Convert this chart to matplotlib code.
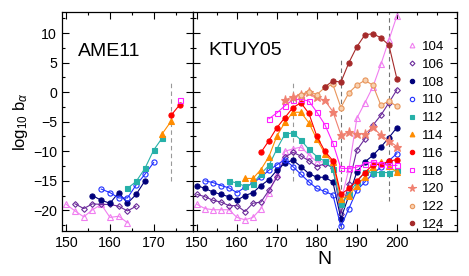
import numpy as np
import matplotlib
matplotlib.use("Agg")
import matplotlib.pyplot as plt
from matplotlib.ticker import MultipleLocator

plt.rcParams['font.family'] = ['Liberation Sans', 'DejaVu Sans']
plt.rcParams['mathtext.fontset'] = 'custom'
plt.rcParams['mathtext.rm'] = 'Liberation Sans'
plt.rcParams['mathtext.it'] = 'Liberation Sans:italic'

#--- AME11 panel (N, log10 b_alpha) per Z
ame_104_n = [150, 152, 154, 156, 158, 160, 162, 164]
ame_104_b = [-19.0, -20.1, -21.1, -19.9, -19.0, -21.2, -21.0, -22.1]
ame_106_n = [152, 154, 156, 158, 160, 162, 164, 166]
ame_106_b = [-18.9, -19.7, -18.9, -19.0, -19.0, -19.3, -20.1, -19.3]
ame_108_n = [156, 158, 160, 162, 164, 166, 168]
ame_108_b = [-17.5, -18.3, -18.8, -17.0, -18.8, -17.3, -15.0]
ame_110_n = [158, 160, 162, 164, 166, 168, 170]
ame_110_b = [-16.4, -17.0, -17.9, -17.9, -15.7, -13.9, -11.9]
ame_112_n = [164, 166, 168, 170, 172]
ame_112_b = [-16.3, -15.1, -12.9, -9.8, -7.7]
ame_114_n = [172, 174]
ame_114_b = [-7.0, -4.9]
ame_116_n = [174, 176]
ame_116_b = [-3.9, -2.1]
ame_118_n = [176]
ame_118_b = [-1.3]

#--- KTUY05 panel
kt_104_n = list(range(150, 201, 2))
kt_104_b = [-19.0, -19.7, -19.9, -19.9, -19.9, -21.2, -21.6, -21.2, -19.7, -17.1,
            -13.8, -10.0, -9.6, -9.3, -10.6, -11.8, -11.8, -11.6, -18.5, -13.0,
            -4.4, -1.8, 0.9, 4.7, 8.8, 12.9]
kt_106_n = list(range(150, 201, 2))
kt_106_b = [-17.3, -17.7, -18.3, -18.6, -19.2, -19.2, -20.2, -18.8, -18.6, -16.6,
            -14.4, -11.0, -10.2, -10.8, -11.6, -12.6, -12.1, -12.8, -20.6, -15.5,
            -9.8, -7.9, -5.6, -3.9, -1.8, 0.4]
kt_108_n = list(range(150, 201, 2))
kt_108_b = [-15.8, -16.3, -16.9, -17.3, -17.7, -18.3, -17.5, -17.0, -15.8, -14.8,
            -13.2, -12.0, -11.5, -12.6, -13.8, -14.4, -14.4, -15.2, -21.4, -17.5,
            -13.5, -11.8, -10.7, -9.3, -7.7, -6.0]
kt_110_n = list(range(152, 201, 2))
kt_110_b = [-15.0, -15.3, -15.8, -16.2, -17.0, -16.1, -15.4, -14.4, -13.2,
            -12.3, -11.4, -12.6, -13.9, -15.2, -16.3, -16.8, -17.4, -22.7, -19.7,
            -16.6, -15.2, -13.8, -12.7, -11.6, -10.4]
kt_112_n = list(range(158, 201, 2))
kt_112_b = [-15.0, -15.4, -15.9, -15.5, -13.8, -12.4, -9.6, -7.1, -6.9, -8.1,
            -9.7, -10.9, -11.7, -13.0, -19.0, -17.2, -15.2, -13.5, -13.6, -13.6,
            -13.6, -13.2]
kt_114_n = list(range(162, 201, 2))
kt_114_b = [-14.6, -14.6, -13.1, -10.9, -7.4, -5.1, -3.4, -3.4, -5.2, -8.0,
            -10.4, -11.9, -18.0, -17.5, -15.8, -14.3, -12.7, -11.8, -12.5, -13.5]
kt_116_n = list(range(166, 201, 2))
kt_116_b = [-10.2, -8.2, -6.0, -4.3, -2.6, -1.8, -3.6, -7.5, -10.0, -11.6,
            -17.3, -16.3, -15.0, -13.6, -12.3, -12.2, -11.7, -11.4]
kt_118_n = list(range(168, 201, 2))
kt_118_b = [-4.5, -3.5, -2.3, -1.3, -1.2, -1.5, -3.4, -5.5, -8.6, -12.9,
            -12.9, -12.7, -12.1, -11.8, -12.1, -12.4, -12.4]
kt_120_n = list(range(172, 201, 2))
kt_120_b = [-1.3, -0.8, -0.4, 0.0, -0.9, -1.4, -3.3, -7.2, -6.8, -7.0,
            -7.0, -5.9, -7.3, -8.2, -9.2]
kt_122_n = list(range(176, 201, 2))
kt_122_b = [-0.4, 0.1, -0.4, 0.8, 1.3, -2.6, -0.1, 1.2, 2.0, 1.2, -2.2, -1.5, -2.4]
kt_124_n = list(range(182, 201, 2))
kt_124_b = [0.9, 1.9, 1.7, 5.0, 7.7, 9.7, 9.9, 9.2, 8.0, 2.3]

# style per Z: color, marker, face
styles = {
    104: ('#f07ef0', '^', 'none'),
    106: ('#6a2a9a', 'D', 'none'),
    108: ('#00007a', 'o', 'fill'),
    110: ('#1f2fff', 'o', 'none'),
    112: ('#26b0a8', 's', 'fill'),
    114: ('#ff8c00', '^', 'fill'),
    116: ('#ff0000', 'o', 'fill'),
    118: ('#ff20ff', 's', 'none'),
    120: ('#f08070', '*', 'fill'),
    122: ('#e8955a', 'o', 'peach'),
    124: ('#a52a2a', 'o', 'fill'),
}
msize = {'^': 4.0, 'D': 2.9, 'o': 3.7, 's': 3.6, '*': 6.5}


def draw(ax, z, n, b, label=None):
    c, m, f = styles[z]
    if f == 'none':
        fc = 'none'
    elif f == 'peach':
        fc = '#f8d0b0'
    else:
        fc = c
    ax.plot(n, b, color=c, lw=0.8, marker=m, ms=msize[m], mfc=fc, mec=c,
            mew=0.8, label=label)


fig = plt.figure(figsize=(4.69, 2.76), dpi=100)
ax1 = fig.add_axes([0.132, 0.163, 0.2795, 0.792])
ax2 = fig.add_axes([0.4115, 0.163, 0.5625, 0.792])

ame = [(104, ame_104_n, ame_104_b), (106, ame_106_n, ame_106_b),
       (108, ame_108_n, ame_108_b), (110, ame_110_n, ame_110_b),
       (112, ame_112_n, ame_112_b), (114, ame_114_n, ame_114_b),
       (116, ame_116_n, ame_116_b), (118, ame_118_n, ame_118_b)]
ktuy = [(104, kt_104_n, kt_104_b), (106, kt_106_n, kt_106_b),
        (108, kt_108_n, kt_108_b), (110, kt_110_n, kt_110_b),
        (112, kt_112_n, kt_112_b), (114, kt_114_n, kt_114_b),
        (116, kt_116_n, kt_116_b), (118, kt_118_n, kt_118_b),
        (120, kt_120_n, kt_120_b), (122, kt_122_n, kt_122_b),
        (124, kt_124_n, kt_124_b)]

# dashed guides
ax1.plot([174, 174], [-15, 2], ls=(0, (4, 3)), color='0.6', lw=0.8)
ax2.plot([174, 174], [-15, 2], ls=(0, (4, 3)), color='0.6', lw=0.8)
ax2.plot([186, 186], [-23, 5.5], ls=(0, (4, 3)), color='0.45', lw=0.8)
ax2.plot([198, 198], [-18.5, 13.5], ls=(0, (4, 3)), color='0.45', lw=0.8)

for z, n, b in ame:
    draw(ax1, z, n, b)
for z, n, b in ktuy:
    draw(ax2, z, n, b, label=str(z))

for ax in (ax1, ax2):
    ax.set_ylim(-23.5, 13.5)
    ax.yaxis.set_major_locator(MultipleLocator(5))
    ax.yaxis.set_minor_locator(MultipleLocator(2.5))
    ax.xaxis.set_major_locator(MultipleLocator(10))
    ax.xaxis.set_minor_locator(MultipleLocator(5))
    ax.tick_params(which='both', direction='in', top=True, right=True,
                   labelsize=10.2)
    ax.tick_params(which='major', length=5, width=0.8)
    ax.tick_params(which='minor', length=2.5, width=0.8)
    for s in ax.spines.values():
        s.set_linewidth(0.9)

ax1.set_xlim(149, 179)
ax2.set_xlim(149, 215)
ax2.set_xticks([150, 160, 170, 180, 190, 200])
ax2.tick_params(labelleft=False)
ax1.set_ylabel(r'log$_{10}$ b$_{\alpha}$', fontsize=12, labelpad=2)
ax2.set_xlabel('N', fontsize=14, labelpad=1)

ax1.text(0.122, 0.80, 'AME11', transform=ax1.transAxes, fontsize=14,
         va='baseline')
ax2.text(0.057, 0.805, 'KTUY05', transform=ax2.transAxes, fontsize=14,
         va='baseline')

leg = ax2.legend(loc='upper left', bbox_to_anchor=(0.79, 0.895), frameon=False,
                 handlelength=0.8, handletextpad=0.35, labelspacing=0.41,
                 fontsize=9.6, borderaxespad=0, numpoints=1, markerscale=0.85)
for h in leg.legend_handles:
    h.set_linestyle('none')

fig.savefig('out.png', dpi=100)
